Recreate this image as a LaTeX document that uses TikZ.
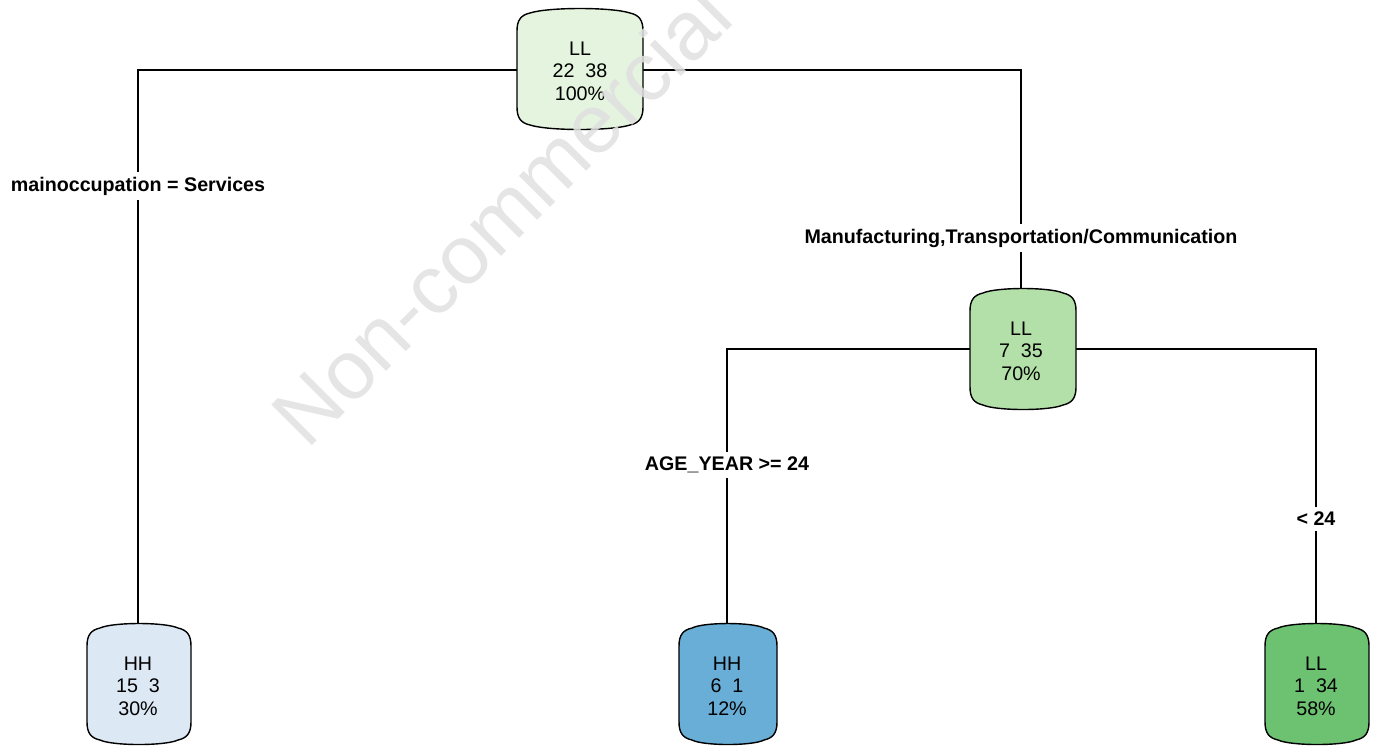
\documentclass[tikz,border=0pt]{standalone}
\usepackage{fontspec}
\setmainfont{Liberation Sans}

\pgfdeclarelayer{edges}
\pgfdeclarelayer{barrels}
\pgfsetlayers{edges,barrels,main}

\definecolor{rootfill}{HTML}{E5F4DF}
\definecolor{midfill}{HTML}{B3E0A8}
\definecolor{llfill}{HTML}{6CC271}
\definecolor{hhlight}{HTML}{DDE8F5}
\definecolor{hhdark}{HTML}{69AED6}

\tikzset{
  leaf/.style={align=center, inner sep=0pt, font=\fontsize{11.2}{12.8}\selectfont},
  split/.style={fill=white, inner sep=3pt, font=\bfseries\fontsize{11.2}{12.8}\selectfont},
  link/.style={line width=0.7pt},
  watermark/.style={text=black!12, opacity=0.85, font=\fontsize{47.5}{47.5}\selectfont}
}

% barrel outline: centre, half width (px), fill colour
\newcommand{\barrel}[3]{%
  \begin{pgfonlayer}{barrels}
  \begin{scope}[shift={#1}]
  \filldraw[fill=#3, line width=0.8pt] (-#2,38) -- (-#2,-38)
    .. controls (-#2,-49) and (-#2+4,-54) .. (-#2+13,-56)
    .. controls (-#2/2,-62) and (#2/2,-62) .. (#2-13,-56)
    .. controls (#2-4,-54) and (#2,-49) .. (#2,-38)
    -- (#2,38)
    .. controls (#2,49) and (#2-4,54) .. (#2-13,56)
    .. controls (#2/2,62) and (-#2/2,62) .. (-#2+13,56)
    .. controls (-#2+4,54) and (-#2,49) .. (-#2,38) -- cycle;
  \end{scope}
  \end{pgfonlayer}}

\begin{document}
\begin{tikzpicture}[x=0.02cm,y=-0.02cm]
\useasboundingbox (0,0) rectangle (1378,745);

\node[leaf] (root) at (580,71) {LL\\22\ \ 38\\100\%};
\node[leaf] (occ) at (1021,351) {LL\\7\ \ 35\\70\%};
\node[leaf] (hhA) at (138,686) {HH\\15\ \ 3\\30\%};
\node[leaf] (hhB) at (727,686) {HH\\6\ \ 1\\12\%};
\node[leaf] (llC) at (1316,686) {LL\\1\ \ 34\\58\%};

\barrel{(580,69)}{63}{rootfill}
\barrel{(1023,349)}{53}{midfill}
\barrel{(139,684)}{52}{hhlight}
\barrel{(728,684)}{49}{hhdark}
\barrel{(1317,684)}{52}{llfill}

\begin{pgfonlayer}{edges}
\draw[link] (root.center |- 0,70) -| (hhA);
\draw[link] (root.center |- 0,70) -| (occ);
\draw[link] (occ.center |- 0,349) -| (hhB);
\draw[link] (occ.center |- 0,349) -| (llC);
\end{pgfonlayer}

\node[split] (lbA) at (138,186) {mainoccupation = Services};
\node[split] (lbB) at (1021,238) {Manufacturing,Transportation/Communication};
\node[split] (lbC) at (727,465) {AGE\_YEAR >= 24};
\node[split] (lbD) at (1316,519) {< 24};

\begin{scope}
\clip (0,0) rectangle (1378,745);
\node[watermark, rotate=45, anchor=base west] (wm) at (303,455) {Non-commercial};
\end{scope}
\end{tikzpicture}
\end{document}
